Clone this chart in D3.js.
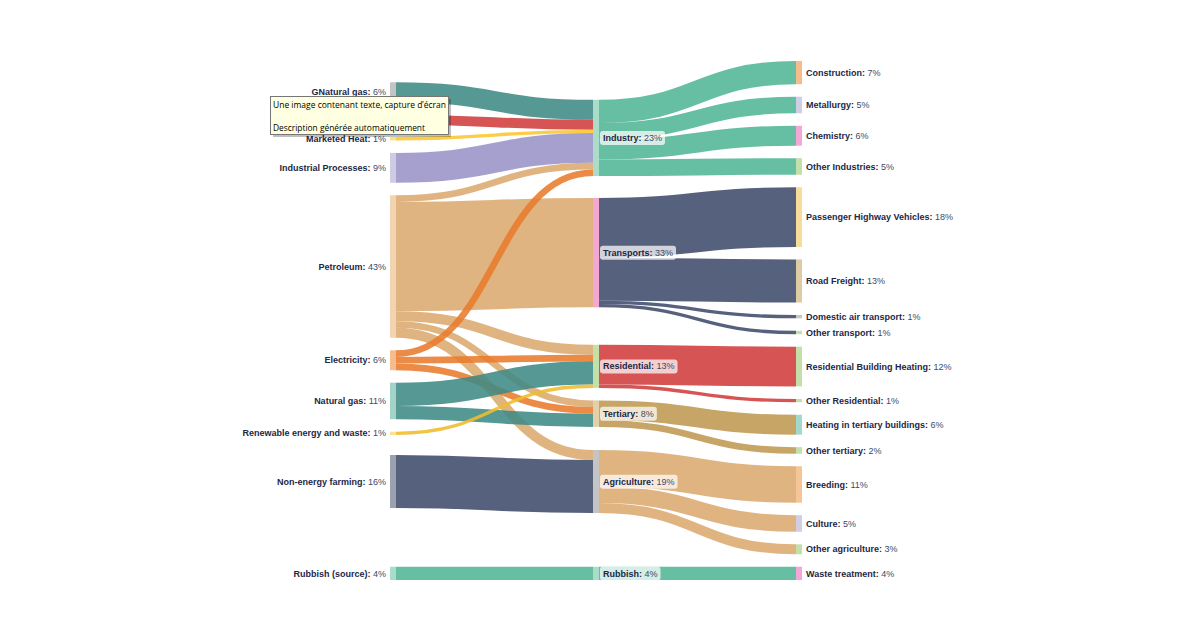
<!DOCTYPE html>
<html><head><meta charset="utf-8">
<script src="https://cdn.jsdelivr.net/npm/d3@7"></script>
<style>body{margin:0;background:#fff}svg{display:block}</style>
</head><body><svg id="chart" width="1200" height="643"></svg>
<script>
// ---------- DATA ----------
const sourceNames = ["GNatural gas","Coal","Marketed Heat","Industrial Processes","Petroleum","Electricity","Natural gas","Renewable energy and waste","Non-energy farming","Rubbish (source)"];
const sectorNames = ["Industry","Transports","Residential","Tertiary","Agriculture","Rubbish"];
const useNames = ["Construction","Metallurgy","Chemistry","Other Industries","Passenger Highway Vehicles","Road Freight","Domestic air transport","Other transport","Residential Building Heating","Other Residential","Heating in tertiary buildings","Other tertiary","Breeding","Culture","Other agriculture","Waste treatment"];

const flowFrom = ["GNatural gas","Coal","Marketed Heat","Industrial Processes","Petroleum","Petroleum","Petroleum","Petroleum","Petroleum","Electricity","Electricity","Electricity","Natural gas","Natural gas","Renewable energy and waste","Non-energy farming","Rubbish (source)",
  "Industry","Industry","Industry","Industry","Transports","Transports","Transports","Transports","Residential","Residential","Tertiary","Tertiary","Agriculture","Agriculture","Agriculture","Rubbish"];
const flowTo = ["Industry","Industry","Industry","Industry","Industry","Transports","Residential","Tertiary","Agriculture","Industry","Residential","Tertiary","Residential","Tertiary","Residential","Agriculture","Rubbish",
  "Construction","Metallurgy","Chemistry","Other Industries","Passenger Highway Vehicles","Road Freight","Domestic air transport","Other transport","Residential Building Heating","Other Residential","Heating in tertiary buildings","Other tertiary","Breeding","Culture","Other agriculture","Waste treatment"];
const flowValue = [6,3,1,9,2,33,3,2,3,2,2,2,7,4,1,16,4,
  7,5,6,5,18,13,1,1,12,1,6,2,11,5,3,4];

const tooltipLines = ["Une image contenant texte, capture d\u2019écran","Description générée automatiquement"];

// ---------- STYLE ----------
const nodeColor = {
  "GNatural gas":"#c4c4c4","Coal":"#c4c4c4","Marketed Heat":"#f7df98","Industrial Processes":"#cfcbe5","Petroleum":"#f1d4b0",
  "Electricity":"#f5bd8d","Natural gas":"#a3d2c6","Renewable energy and waste":"#f9e39c","Non-energy farming":"#9ba1af","Rubbish (source)":"#aadcca",
  "Industry":"#aadcca","Transports":"#f4a7d3","Residential":"#c2e0a8","Tertiary":"#e3d0aa","Agriculture":"#c4c4c4","Rubbish":"#aadcca",
  "Construction":"#f5bc8c","Metallurgy":"#d0cee7","Chemistry":"#f4a7d6","Other Industries":"#c2e0a8","Passenger Highway Vehicles":"#f7dc9a",
  "Road Freight":"#dccba3","Domestic air transport":"#c6c6c6","Other transport":"#c2e0a8","Residential Building Heating":"#c2e0a8",
  "Other Residential":"#c2e0a8","Heating in tertiary buildings":"#a3d9ca","Other tertiary":"#c2e0a8","Breeding":"#f5c598",
  "Culture":"#d0cee7","Other agriculture":"#c2e0a8","Waste treatment":"#f4a7d6"
};
const linkColor = {
  "GNatural gas":"#3f8a85","Coal":"#d03c3c","Marketed Heat":"#fcc62c","Industrial Processes":"#9893c6","Petroleum":"#dcaa70",
  "Electricity":"#e87b2c","Natural gas":"#3f8a85","Renewable energy and waste":"#f0bc2c","Non-energy farming":"#3f4b6b","Rubbish (source)":"#52b696",
  "Industry":"#52b696","Transports":"#3f4b6b","Residential":"#d03c3c","Tertiary":"#bf9852","Agriculture":"#dcaa70","Rubbish":"#52b696"
};

// ---------- SANKEY LAYOUT ----------
const X0 = 390, X1 = 802, Y0 = 61, Y1 = 580, NW = 6, PAD = 12.5, ITER = 150;
const allNames = [...sourceNames, ...sectorNames, ...useNames];
const nodes = allNames.map((name, index) => ({name, index, sourceLinks: [], targetLinks: []}));
const byName = new Map(nodes.map(n => [n.name, n]));
const links = flowValue.map((value, index) => {
  const l = {source: byName.get(flowFrom[index]), target: byName.get(flowTo[index]), value, index};
  l.source.sourceLinks.push(l); l.target.targetLinks.push(l);
  return l;
});
nodes.forEach(n => n.value = Math.max(d3.sum(n.sourceLinks, l => l.value), d3.sum(n.targetLinks, l => l.value)));
nodes.forEach(n => n.layer = sourceNames.includes(n.name) ? 0 : sectorNames.includes(n.name) ? 1 : 2);
const columns = [0,1,2].map(k => nodes.filter(n => n.layer === k));
const xScale = d3.scaleLinear().domain([0, 2]).range([X0, X1 - NW]);
nodes.forEach(n => { n.x0 = xScale(n.layer); n.x1 = n.x0 + NW; });

const ky = d3.min(columns, c => (Y1 - Y0 - (c.length - 1) * PAD) / d3.sum(c, n => n.value));
const yScale = d3.scaleLinear().domain([0, 1]).range([0, ky]);
nodes.forEach(n => n.h = yScale(n.value));
links.forEach(l => l.width = yScale(l.value));

for (const col of columns) {
  let y = Y0;
  for (const n of col) { n.y0 = y; y += n.h + PAD; }
}
function linkOffsets() {
  for (const n of nodes) {
    n.sourceLinks.sort((a, b) => a.target.y0 - b.target.y0 || a.index - b.index);
    n.targetLinks.sort((a, b) => a.source.y0 - b.source.y0 || a.index - b.index);
    let a = 0, b = 0;
    for (const l of n.sourceLinks) { l.offS = a; a += l.width; }
    for (const l of n.targetLinks) { l.offT = b; b += l.width; }
  }
}
// order-preserving, value-weighted collision resolution (pool adjacent violators)
function place(col, desired) {
  let off = 0; const c = [];
  col.forEach(n => { c.push(off); off += n.h + PAD; });
  const hi = Y1 - col[col.length - 1].h - c[c.length - 1];
  const blocks = [];
  col.forEach((n, i) => {
    blocks.push({w: n.value, v: desired[i] - c[i], s: i, e: i});
    while (blocks.length > 1 && blocks[blocks.length - 2].v > blocks[blocks.length - 1].v) {
      const b = blocks.pop(), a = blocks[blocks.length - 1];
      a.v = (a.v * a.w + b.v * b.w) / (a.w + b.w); a.w += b.w; a.e = b.e;
    }
  });
  for (const b of blocks) for (let i = b.s; i <= b.e; i++) col[i].y0 = Math.min(hi, Math.max(Y0, b.v)) + c[i];
}
const wavg = (ls, f) => d3.sum(ls, l => f(l) * l.value) / d3.sum(ls, l => l.value);
const mid = n => n.y0 + n.h / 2;
for (let it = 0; it < ITER; it++) {
  for (const col of columns) {
    linkOffsets();
    const desired = col.map(n => {
      if (n.layer === 0) return wavg(n.sourceLinks, l => mid(l.target)) - n.h / 2;
      const parts = [];
      if (n.targetLinks.length) parts.push(wavg(n.targetLinks, l => l.source.y0 + l.offS - l.offT));
      if (n.sourceLinks.length) parts.push(wavg(n.sourceLinks, l => l.target.y0 + l.offT - l.offS));
      return d3.mean(parts);
    });
    place(col, desired);
  }
}
linkOffsets();
nodes.forEach(n => n.y1 = n.y0 + n.h);
links.forEach(l => { l.y0 = l.source.y0 + l.offS + l.width / 2; l.y1 = l.target.y0 + l.offT + l.width / 2; });

// ---------- DRAW ----------
const svg = d3.select("#chart");
const FONT = "'Liberation Sans', Arial, sans-serif";
const linkPath = d3.linkHorizontal().source(d => [d.source.x1, d.y0]).target(d => [d.target.x0, d.y1]);

svg.append("g").selectAll("path").data(links).join("path")
  .attr("d", linkPath).attr("fill", "none")
  .attr("stroke", d => linkColor[d.source.name])
  .attr("stroke-opacity", 0.88)
  .attr("stroke-width", d => Math.max(1, d.width));

svg.append("g").selectAll("rect").data(nodes).join("rect")
  .attr("x", d => d.x0).attr("y", d => d.y0)
  .attr("width", NW).attr("height", d => Math.max(1, d.y1 - d.y0))
  .attr("fill", d => nodeColor[d.name]);

const lab = svg.append("g").attr("font-family", FONT).attr("font-size", 9);
nodes.forEach(n => {
  const ymid = (n.y0 + n.y1) / 2;
  const x = n.layer === 0 ? n.x0 - 4 : n.x1 + 4;
  const anchor = n.layer === 0 ? "end" : "start";
  const g = lab.append("g");
  const t = g.append("text").attr("x", x).attr("y", ymid).attr("dy", "0.35em").attr("text-anchor", anchor);
  t.append("tspan").attr("font-weight", "bold").attr("fill", "#1d2746").text(n.name + ":");
  t.append("tspan").attr("fill", "#3e4a66").text(" " + Math.round(n.value) + "%");
  if (n.layer === 1) {
    const bb = t.node().getBBox();
    g.insert("rect", "text").attr("x", bb.x - 3).attr("y", bb.y - 2).attr("width", bb.width + 6).attr("height", bb.height + 4)
      .attr("rx", 3).attr("fill", "#fff").attr("fill-opacity", 0.72);
  }
});

// ---------- TOOLTIP OVERLAY ----------
const tip = svg.append("g").attr("transform", "translate(270,96)");
tip.append("rect").attr("x", 3).attr("y", 3).attr("width", 178).attr("height", 38).attr("fill", "#000").attr("fill-opacity", 0.25);
tip.append("rect").attr("x", 0.5).attr("y", 0.5).attr("width", 178).attr("height", 38).attr("fill", "#ffffe1").attr("stroke", "#767676");
tip.selectAll("text").data(tooltipLines).join("text")
  .attr("x", 3).attr("y", (d, i) => 11.5 + i * 23)
  .attr("font-family", "'Open Sans', 'DejaVu Sans', sans-serif").attr("font-size", 9.6).attr("fill", "#000")
  .attr("textLength", (d, i) => i === 0 ? 173 : 152).attr("lengthAdjust", "spacingAndGlyphs")
  .text(d => d);
</script></body></html>
